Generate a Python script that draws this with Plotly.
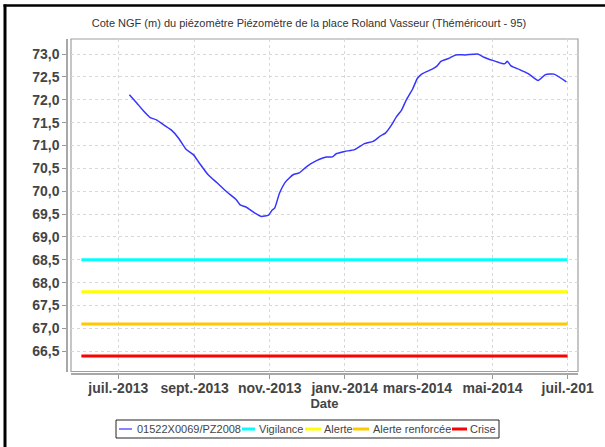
"""
Piezometer level chart (Théméricourt) rebuilt with Plotly.
"""

import plotly.graph_objects as go

# measured water level (m NGF)
DATES = [
    "2013-07-10", "2013-07-16", "2013-07-21", "2013-07-27", "2013-08-01", "2013-08-08",
    "2013-08-13", "2013-08-19", "2013-08-25", "2013-08-31", "2013-09-05", "2013-09-12",
    "2013-09-19", "2013-09-27", "2013-10-05", "2013-10-08", "2013-10-13", "2013-10-20",
    "2013-10-25", "2013-10-31", "2013-11-03", "2013-11-05", "2013-11-09", "2013-11-14",
    "2013-11-20", "2013-11-25", "2013-12-01", "2013-12-09", "2013-12-17", "2013-12-22",
    "2013-12-25", "2014-01-01", "2014-01-09", "2014-01-17", "2014-01-24", "2014-01-30",
    "2014-02-03", "2014-02-08", "2014-02-12", "2014-02-16", "2014-02-20", "2014-02-25",
    "2014-03-01", "2014-03-05", "2014-03-13", "2014-03-17", "2014-03-20", "2014-03-27",
    "2014-04-01", "2014-04-09", "2014-04-19", "2014-04-24", "2014-05-01", "2014-05-08",
    "2014-05-11", "2014-05-13", "2014-05-16", "2014-05-23", "2014-05-30", "2014-06-07",
    "2014-06-13", "2014-06-20", "2014-06-30",
]
LEVELS = [
    72.11, 71.93, 71.77, 71.61, 71.56, 71.43,
    71.34, 71.16, 70.92, 70.80, 70.61, 70.36,
    70.19, 69.99, 69.81, 69.70, 69.65, 69.52,
    69.45, 69.48, 69.59, 69.63, 69.96, 70.21,
    70.36, 70.40, 70.54, 70.67, 70.75, 70.75,
    70.82, 70.87, 70.91, 71.04, 71.09, 71.21,
    71.27, 71.45, 71.63, 71.77, 72.00, 72.23,
    72.47, 72.57, 72.67, 72.74, 72.84, 72.91,
    72.98, 72.98, 73.00, 72.93, 72.86, 72.80,
    72.79, 72.84, 72.74, 72.66, 72.57, 72.42,
    72.55, 72.56, 72.39,
]
SERIES_NAME = "01522X0069/PZ2008"

# alert thresholds
THRESHOLD_NAMES = ["Vigilance", "Alerte", "Alerte renforcée", "Crise"]
THRESHOLD_VALUES = [68.5, 67.8, 67.1, 66.4]
THRESHOLD_COLORS = ["#00ffff", "#ffff00", "#ffc800", "#ff0000"]
THRESHOLD_SPAN = ["2013-06-01", "2014-07-01"]

TICK_DATES = ["2013-07-01", "2013-09-01", "2013-11-01", "2014-01-01",
              "2014-03-01", "2014-05-01", "2014-07-01"]
TICK_LABELS = ["juil.-2013", "sept.-2013", "nov.-2013", "janv.-2014",
               "mars-2014", "mai-2014", "juil.-201"]

TITLE = "Cote NGF (m) du piézomètre Piézomètre de la place Roland Vasseur (Théméricourt - 95)"

W, H = 605, 447
L, R, T, B = 67, 27, 39, 73
PW, PH = W - L - R, H - T - B
FONT = "Liberation Sans, Arial, sans-serif"
SERIES_COLOR = "#3535ff"


def px(x):
    return (x - L) / PW


def py(y):
    return (H - B - y) / PH


fig = go.Figure()

fig.add_trace(go.Scatter(
    x=DATES, y=LEVELS, mode="lines", name=SERIES_NAME,
    line=dict(color=SERIES_COLOR, width=1.5, shape="spline", smoothing=0.5), showlegend=False
))

for name, value, color in zip(THRESHOLD_NAMES, THRESHOLD_VALUES, THRESHOLD_COLORS):
    fig.add_trace(go.Scatter(
        x=THRESHOLD_SPAN, y=[value, value], mode="lines", name=name,
        line=dict(color=color, width=3), showlegend=False
    ))

shapes = [
    # plot frame
    dict(type="rect", xref="x domain", yref="y domain", x0=0, x1=1, y0=0, y1=1,
         line=dict(color="#a0a0a0", width=1.2), layer="below"),
    # outer black border (left + top)
    dict(type="line", xref="paper", yref="paper", x0=px(5), x1=px(5), y0=py(H + 5), y1=py(4.5),
         line=dict(color="black", width=3)),
    dict(type="line", xref="paper", yref="paper", x0=px(3.5), x1=px(W + 5), y0=py(5.5), y1=py(5.5),
         line=dict(color="black", width=2.5)),
    # legend box
    dict(type="rect", xref="paper", yref="paper", x0=px(116), x1=px(499), y0=py(438), y1=py(420),
         line=dict(color="#222222", width=1), fillcolor="white"),
]

annotations = []
legend_items = [(SERIES_NAME, SERIES_COLOR, 1.2, 119, 132, 136)]
legend_slots = [(242, 255, 258), (305, 321, 323), (353, 369, 372), (452, 467, 469)]
for name, color, slot in zip(THRESHOLD_NAMES, THRESHOLD_COLORS, legend_slots):
    legend_items.append((name, color, 3, slot[0], slot[1], slot[2]))

for name, color, width, lx0, lx1, tx in legend_items:
    shapes.append(dict(type="line", xref="paper", yref="paper", x0=px(lx0), x1=px(lx1),
                       y0=py(429), y1=py(429), line=dict(color=color, width=width)))
    annotations.append(dict(text=name, xref="paper", yref="paper", x=px(tx), y=py(429),
                            xanchor="left", yanchor="middle", showarrow=False, borderpad=0,
                            font=dict(family=FONT, size=11, color="#444444")))

fig.update_layout(
    width=W, height=H,
    template="none",
    separators=", ",
    paper_bgcolor="white", plot_bgcolor="white",
    margin=dict(l=L, r=R, t=T, b=B, pad=0),
    font=dict(family=FONT, color="#444444"),
    title=dict(text=TITLE, x=309 / W, y=1 - 23 / H, xref="container", yref="container",
               xanchor="center", yanchor="middle",
               font=dict(family=FONT, size=11, color="#333333")),
    xaxis=dict(
        type="date", range=["2013-05-23 14:00", "2014-07-09 10:00"],
        domain=[4 / PW, 1], anchor="free", position=0,
        tickvals=TICK_DATES, ticktext=TICK_LABELS,
        tickfont=dict(family=FONT, size=14, color="#444444", weight="bold"),
        ticks="outside", ticklen=4, tickcolor="#999999", tickwidth=1,
        ticklabelstandoff=-3,
        showline=True, linecolor="#a8a8a8", linewidth=1.5,
        showgrid=True, gridcolor="#d8d8d8", griddash="3px,3px", gridwidth=1,
        zeroline=False, automargin=False,
        title=dict(text="Date", standoff=2,
                   font=dict(family=FONT, size=13, color="#444444", weight="bold")),
    ),
    yaxis=dict(
        range=[66.059, 73.328], domain=[2.5 / PH, 1], anchor="free", position=0,
        tickvals=[66.5 + 0.5 * i for i in range(14)], tickformat=".1f",
        tickfont=dict(family=FONT, size=14, color="#444444", weight="bold"),
        ticks="outside", ticklen=4, tickcolor="#999999", tickwidth=1,
        showline=True, linecolor="#a8a8a8", linewidth=1.5,
        showgrid=True, gridcolor="#d8d8d8", griddash="3px,3px", gridwidth=1,
        zeroline=False, automargin=False,
    ),
    shapes=shapes,
    annotations=annotations,
    showlegend=False,
)

# page margin would shift the whole chart by 8px, and no scrollbars
fig.write_html("out.html", config={"displayModeBar": False},
               post_script="document.body.style.margin = '0'; document.body.style.overflow = 'hidden';")
